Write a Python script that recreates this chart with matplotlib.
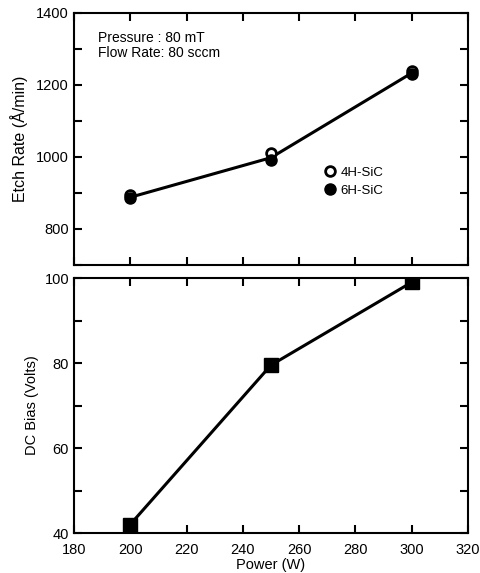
import matplotlib
matplotlib.use("Agg")
import matplotlib.pyplot as plt
from matplotlib.ticker import MultipleLocator

plt.rcParams['font.family'] = ['Liberation Sans', 'DejaVu Sans']

# data
power = [200, 250, 300]
etch_4h = [895, 1012, 1240]
etch_6h = [885, 992, 1230]
etch_line = [888, 998, 1233]
dc_bias = [42, 79.5, 99]

fig = plt.figure(figsize=(4.8, 5.73), dpi=100)
ax1 = fig.add_axes([0.154, 0.5375, 0.821, 0.44])
ax2 = fig.add_axes([0.154, 0.0698, 0.821, 0.445])

for ax in (ax1, ax2):
    ax.tick_params(which='both', direction='in', top=True, right=True, width=1.5, labelsize=10.5)
    ax.tick_params(which='major', length=6)
    ax.tick_params(which='minor', length=6)
    for s in ax.spines.values():
        s.set_linewidth(1.5)
    ax.set_xlim(180, 320)
    ax.xaxis.set_major_locator(MultipleLocator(20))

# top panel
ax1.plot(power, etch_line, color='black', lw=2.2, zorder=2)
ax1.plot(power, etch_4h, 'o', ms=7, mfc='white', mec='black', mew=2, zorder=3, label='4H-SiC')
ax1.plot(power, etch_6h, 'o', ms=8, color='black', zorder=4, label='6H-SiC')
ax1.set_ylim(700, 1400)
ax1.yaxis.set_major_locator(MultipleLocator(200))
ax1.yaxis.set_minor_locator(MultipleLocator(100))
ax1.set_xticklabels([])
ax1.set_ylabel('Etch Rate (Å/min)', fontsize=11.5, labelpad=6)
ax1.text(0.06, 0.93, 'Pressure : 80 mT\nFlow Rate: 80 sccm', transform=ax1.transAxes,
         fontsize=10, va='top', linespacing=1.1)
ax1.legend(loc='center left', bbox_to_anchor=(0.6, 0.33), frameon=False, fontsize=9.5,
           handletextpad=0.2, handlelength=1.2, labelspacing=0.45)

# bottom panel
ax2.plot(power, dc_bias, 's', ls='-', color='black', lw=2.2, ms=10)
ax2.set_ylim(40, 100)
ax2.yaxis.set_major_locator(MultipleLocator(20))
ax2.yaxis.set_minor_locator(MultipleLocator(10))
ax2.set_ylabel('DC Bias (Volts)', fontsize=10.5)
ax2.set_xlabel('Power (W)', fontsize=10.5, labelpad=1)
ax2.tick_params(axis='x', pad=7)

fig.savefig('out.png', dpi=100)
